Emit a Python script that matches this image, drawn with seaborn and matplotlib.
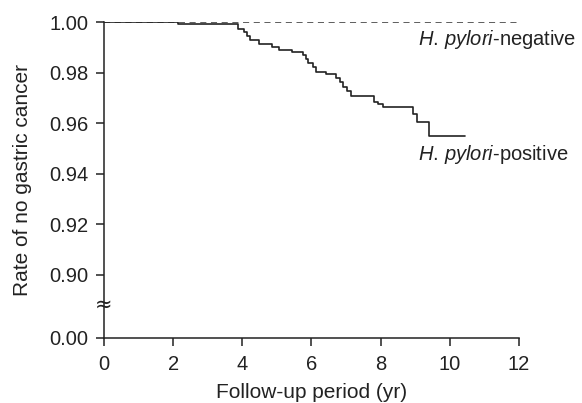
import seaborn as sns
import matplotlib.pyplot as plt
import pandas as pd

# Kaplan-Meier style data
# H. pylori-positive: step times (yr) and survival after each step
pos_time = [0, 2.14, 3.88, 4.05, 4.13, 4.22, 4.48, 4.85, 5.06, 5.44, 5.75, 5.84,
            5.90, 6.04, 6.13, 6.42, 6.71, 6.82, 6.91, 7.02, 7.14, 7.81, 7.92,
            8.07, 8.94, 9.04, 9.40, 10.44]
pos_rate = [1.0, 0.9991, 0.9972, 0.9961, 0.9945, 0.9929, 0.9913, 0.9902, 0.9890,
            0.9881, 0.9870, 0.9853, 0.9837, 0.9822, 0.9802, 0.9793, 0.9777,
            0.9761, 0.9744, 0.9726, 0.9706, 0.9685, 0.9676, 0.9663, 0.9636,
            0.9606, 0.9549, 0.9549]
# H. pylori-negative: no events
neg_time = [0, 12]
neg_rate = [1.0, 1.0]

ytick_pos = [0.875, 0.90, 0.92, 0.94, 0.96, 0.98, 1.00]
ytick_labels = ["0.00", "0.90", "0.92", "0.94", "0.96", "0.98", "1.00"]
xticks = [0, 2, 4, 6, 8, 10, 12]

sns.set_theme(style="ticks")
plt.rcParams["font.family"] = ["Liberation Sans", "DejaVu Sans"]
plt.rcParams["mathtext.fontset"] = "custom"
plt.rcParams["mathtext.it"] = "Liberation Sans:italic"
plt.rcParams["mathtext.rm"] = "Liberation Sans"

fig = plt.figure(figsize=(5.82, 4.03), dpi=100)
ax = fig.add_axes([0.1787, 0.1613, 0.713, 0.7841])

pos = pd.DataFrame({"time": pos_time, "rate": pos_rate})
neg = pd.DataFrame({"time": neg_time, "rate": neg_rate})

sns.lineplot(data=neg, x="time", y="rate", ax=ax, color="#333333",
             linewidth=1.1, linestyle=(0, (4, 3)), estimator=None, sort=False)
sns.lineplot(data=pos, x="time", y="rate", ax=ax, color="#222222",
             linewidth=1.2, drawstyle="steps-post", estimator=None, sort=False)

ax.set_xlim(0, 12)
ax.set_ylim(0.875, 1.0)
ax.set_xticks(xticks)
ax.set_yticks(ytick_pos)
ax.set_yticklabels(ytick_labels)
ax.margins(0)

for side in ["top", "right"]:
    ax.spines[side].set_visible(False)
for side in ["left", "bottom"]:
    ax.spines[side].set_color("#222222")
    ax.spines[side].set_linewidth(1.1)
ax.tick_params(direction="out", length=5.5, width=1.1, color="#222222",
               labelsize=14.5, labelcolor="#222222")
ax.tick_params(axis="x", pad=7)
ax.tick_params(axis="y", pad=6)

ax.set_xlabel("Follow-up period (yr)", fontsize=15, color="#222222", labelpad=6)
ax.set_ylabel("Rate of no gastric cancer", fontsize=15, color="#222222", labelpad=12)

# axis break mark
ax.text(0, 0.8882, "≈", fontsize=15, ha="center", va="center", color="#222222",
        family=["DejaVu Sans"], clip_on=False)

# curve labels
ax.text(9.08, 0.9929, r"$\mathit{H.\,pylori}$-negative", fontsize=14.5,
        color="#222222", ha="left", va="center", clip_on=False)
ax.text(9.08, 0.9474, r"$\mathit{H.\,pylori}$-positive", fontsize=14.5,
        color="#222222", ha="left", va="center", clip_on=False)

fig.savefig("out.png", dpi=100)
